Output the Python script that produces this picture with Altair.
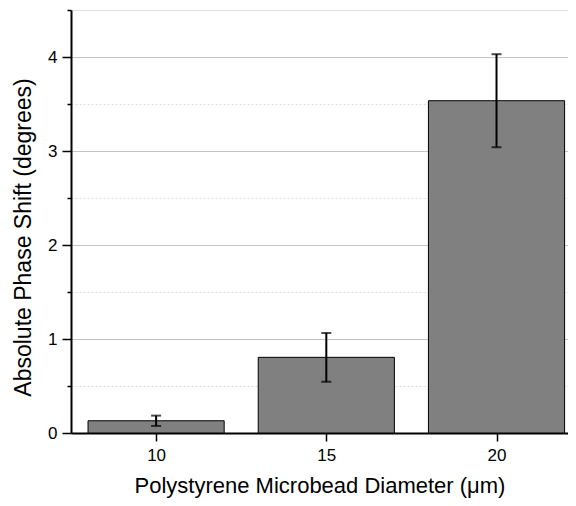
import altair as alt
import pandas as pd

diameters = [10, 15, 20]
phase_shift = [0.13, 0.805, 3.535]
phase_err = [0.055, 0.26, 0.495]

df = pd.DataFrame({"d": diameters, "v": phase_shift, "e": phase_err})

font = "Liberation Sans"
x_scale = alt.Scale(domain=[7.5, 22.1], nice=False, zero=False)
y_scale = alt.Scale(domain=[0, 4.5], nice=False)

base = alt.Chart(df).transform_calculate(
    x0="datum.d - 2", x1="datum.d + 2",
    lo="datum.v - datum.e", hi="datum.v + datum.e"
)

minor = "datum.value % 1 != 0"
y_axis = alt.Axis(
    values=[0, 0.5, 1, 1.5, 2, 2.5, 3, 3.5, 4, 4.5],
    labelExpr="datum.value % 1 == 0 ? format(datum.value, 'd') : ''",
    tickSize={"condition": {"test": minor, "value": 4}, "value": 9},
    grid=True,
    gridColor={"condition": {"test": minor, "value": "#dddddd"}, "value": "#c4c4c4"},
    gridDash={"condition": {"test": minor, "value": [2, 2]}, "value": []},
    gridWidth=1,
    domainColor="black", domainWidth=2, tickColor="black", tickWidth=1.5,
    labelFontSize=17, labelPadding=5, labelFont=font, labelColor="black",
    title="Absolute Phase Shift (degrees)", titleFontSize=23, titleFont=font,
    titleFontWeight="normal", titleColor="black",
    titleX=-48, titleY=227, titleAngle=270, titleAlign="center", titleBaseline="middle",
)
x_axis = alt.Axis(
    values=diameters, grid=False, format="d",
    domainColor="black", domainWidth=2, tickColor="black", tickWidth=1.5, tickSize=8,
    labelFontSize=17, labelPadding=6, labelFont=font, labelColor="black",
    title="Polystyrene Microbead Diameter (\u03bcm)", titleFontSize=22, titleFont=font,
    titleFontWeight="normal", titleColor="black",
    titleY=52, titleBaseline="middle",
)

bars = base.mark_bar(color="#808080", stroke="black", strokeWidth=1).encode(
    x=alt.X("x0:Q", scale=x_scale, axis=x_axis),
    x2="x1:Q",
    y=alt.Y("v:Q", scale=y_scale, axis=y_axis),
    y2=alt.datum(0),
)
rules = base.mark_rule(color="black", strokeWidth=2).encode(
    x="d:Q", y="lo:Q", y2="hi:Q"
)
caps_lo = base.mark_tick(color="black", thickness=2, size=10, orient="horizontal").encode(
    x="d:Q", y="lo:Q"
)
caps_hi = base.mark_tick(color="black", thickness=2, size=10, orient="horizontal").encode(
    x="d:Q", y="hi:Q"
)

chart = alt.layer(bars, rules, caps_lo, caps_hi).properties(
    width=497, height=423,
    autosize=alt.AutoSizeParams(type="none"),
    padding={"left": 63, "top": 2, "right": 0, "bottom": 65},
).configure_view(stroke=None).configure(background="white")

chart.save("out.html", embed_options={"renderer": "svg", "actions": False})
